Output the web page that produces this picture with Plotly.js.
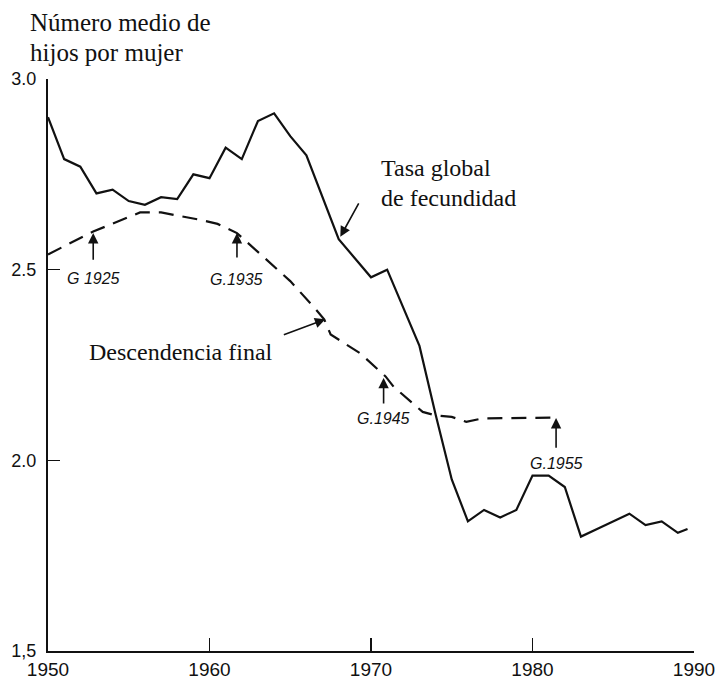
<!DOCTYPE html>
<html>
<head>
<meta charset="utf-8">
<script src="https://cdn.plot.ly/plotly-3.0.1.min.js"></script>
<style>html,body{margin:0;padding:0;background:#fff;}#chart{width:717px;height:682px;}</style>
</head>
<body>
<div id="chart"></div>
<script>
// Tasa global de fecundidad (solid)
const tgfYears = [1950,1951,1952,1953,1954,1955,1956,1957,1958,1959,1960,1961,1962,1963,1964,1965,1966,1967,1968,1969,1970,1971,1972,1973,1974,1975,1976,1977,1978,1979,1980,1981,1982,1983,1984,1985,1986,1987,1988,1989,1989.6];
const tgfValues = [2.90,2.79,2.77,2.70,2.71,2.68,2.67,2.69,2.685,2.75,2.74,2.82,2.79,2.89,2.91,2.85,2.80,2.69,2.58,2.53,2.48,2.50,2.40,2.30,2.12,1.95,1.84,1.87,1.85,1.87,1.96,1.96,1.93,1.80,1.82,1.84,1.86,1.83,1.84,1.81,1.82];

// Descendencia final (dashed)
const dfYears = [1950,1952.8,1955.7,1957,1959.5,1960.5,1961.7,1963.3,1965,1966.5,1967.1,1967.5,1969.35,1970.9,1971.4,1973.2,1974,1975,1975.9,1976.9,1981.6];
const dfValues = [2.54,2.60,2.65,2.65,2.63,2.62,2.596,2.535,2.47,2.40,2.37,2.33,2.28,2.22,2.193,2.127,2.118,2.114,2.101,2.11,2.112];

// Axis ticks
const xTickVals = [1950,1960,1970,1980,1990];
const xTickText = ['1950','1960','1970','1980','1990'];
const yTickVals = [1.5,2.0,2.5,3.0];
const yTickText = ['1,5','2.0','2.5','3.0'];

// Texts
const titleLines = ['Número medio de','hijos por mujer'];
const tgfLabel = ['Tasa global','de fecundidad'];
const dfLabel = 'Descendencia final';
const genLabels = ['G 1925','G.1935','G.1945','G.1955'];
const genX = [1952.8,1961.7,1970.78,1981.46];
const genTip = [2.596,2.596,2.216,2.111];
const genTail = [2.522,2.528,2.145,2.029];
const genText = [2.478,2.473,2.111,1.993];

const serif = 'Liberation Serif, Times New Roman, serif';
const sans = 'Liberation Sans, Arial, sans-serif';
const ink = '#111';

const traces = [
  {x: tgfYears, y: tgfValues, type:'scatter', mode:'lines', line:{color:ink, width:2.2}, hoverinfo:'skip'},
  {x: dfYears, y: dfValues, type:'scatter', mode:'lines', line:{color:ink, width:2.2, dash:'15px,9px'}, hoverinfo:'skip'}
];

const annotations = [];
titleLines.forEach((t,i)=>{
  annotations.push({xref:'paper', yref:'paper', x:-0.031, y:[1.098,1.0455][i], xanchor:'left', yanchor:'middle',
    text:t, showarrow:false, font:{family:serif, size:25, color:ink}});
});
tgfLabel.forEach((t,i)=>{
  annotations.push({xref:'x', yref:'y', x:1970.5, y:[2.766,2.688][i], xanchor:'left', yanchor:'middle',
    text:t, showarrow:false, font:{family:serif, size:24, color:ink}});
});
annotations.push({xref:'x', yref:'y', x:1968.10, y:2.586, axref:'x', ayref:'y', ax:1969.29, ay:2.678,
  text:'', showarrow:true, arrowhead:2, arrowsize:1.3, arrowwidth:1.6, arrowcolor:ink});
annotations.push({xref:'x', yref:'y', x:1952.4, y:2.284, xanchor:'left', yanchor:'middle',
  text:dfLabel, showarrow:false, font:{family:serif, size:24, color:ink}});
annotations.push({xref:'x', yref:'y', x:1967.17, y:2.370, axref:'x', ayref:'y', ax:1964.51, ay:2.328,
  text:'', showarrow:true, arrowhead:2, arrowsize:1.3, arrowwidth:1.6, arrowcolor:ink});
genLabels.forEach((t,i)=>{
  annotations.push({xref:'x', yref:'y', x:genX[i], y:genText[i], xanchor:'center', yanchor:'middle',
    text:'<i>'+t+'</i>', showarrow:false, font:{family:sans, size:16, color:ink}});
  annotations.push({xref:'x', yref:'y', x:genX[i], y:genTip[i], axref:'x', ayref:'y', ax:genX[i], ay:genTail[i],
    text:'', showarrow:true, arrowhead:2, arrowsize:1.3, arrowwidth:1.6, arrowcolor:ink});
});

const layout = {
  width:717, height:682,
  margin:{l:47.5, r:23, t:79, b:31.3, pad:0},
  paper_bgcolor:'#fff', plot_bgcolor:'#fff',
  showlegend:false,
  xaxis:{range:[1950,1990], tickvals:xTickVals, ticktext:xTickText, ticks:'inside', ticklen:13, tickwidth:1.5, tickcolor:ink,
    showline:true, linecolor:ink, linewidth:2, showgrid:false, zeroline:false, ticklabelstandoff:0,
    tickfont:{family:sans, size:19, color:ink}, fixedrange:true},
  yaxis:{range:[1.5,3.0], tickvals:yTickVals, ticktext:yTickText, ticks:'inside', ticklen:12, tickwidth:1.5, tickcolor:ink,
    showline:true, linecolor:ink, linewidth:2, showgrid:false, zeroline:false, ticklabelstandoff:6,
    tickfont:{family:sans, size:18, color:ink}, fixedrange:true},
  annotations: annotations
};

Plotly.newPlot('chart', traces, layout, {staticPlot:true, displayModeBar:false});
</script>
</body>
</html>
